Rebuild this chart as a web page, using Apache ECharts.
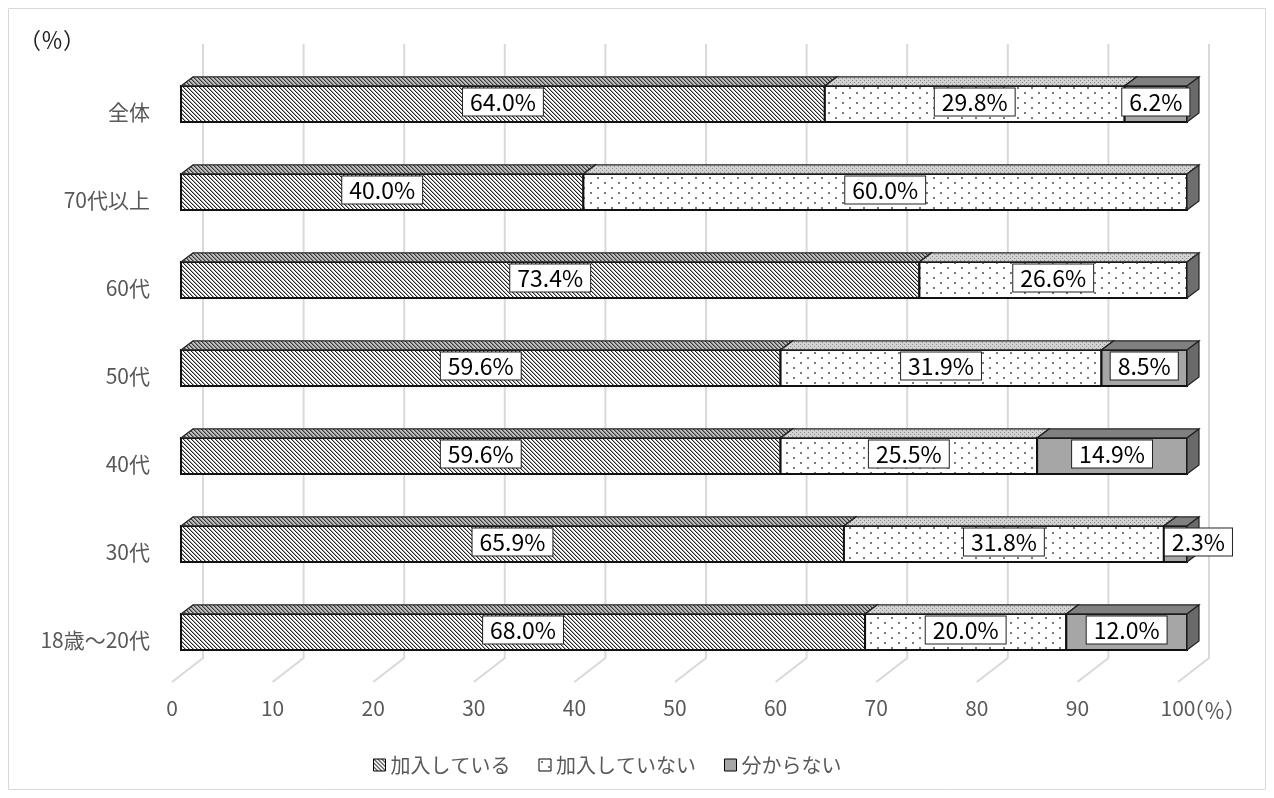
<!DOCTYPE html>
<html>
<head>
<meta charset="utf-8">
<title>加入状況</title>
<script src="https://cdn.jsdelivr.net/npm/echarts@6/dist/echarts.min.js"></script>
<style>
  html, body { margin: 0; padding: 0; background: #fff; }
  #chart { width: 1274px; height: 798px; }
</style>
</head>
<body>
<div id="chart"></div>
<script>
// Age groups (top to bottom) and the share of each answer, in %
const categories = ['全体', '70代以上', '60代', '50代', '40代', '30代', '18歳～20代'];
const joined     = [64.0, 40.0, 73.4, 59.6, 59.6, 65.9, 68.0];
const notJoined  = [29.8, 60.0, 26.6, 31.9, 25.5, 31.8, 20.0];
const unknown    = [6.2, 0, 0, 8.5, 14.9, 2.3, 12.0];
const seriesNames = ['加入している', '加入していない', '分からない'];
const xTicks = [0, 10, 20, 30, 40, 50, 60, 70, 80, 90, 100];

const FONT = '"Noto Sans CJK JP", "Noto Sans", sans-serif';

// ---- fill patterns -------------------------------------------------------
function tile(w, h, bg, paint) {
  const c = document.createElement('canvas');
  c.width = w; c.height = h;
  const g = c.getContext('2d');
  g.fillStyle = bg; g.fillRect(0, 0, w, h);
  paint(g);
  return c;
}
function hatch(bg, dark, mid) {
  return tile(4, 4, bg, g => {
    for (let y = 0; y < 4; y++) for (let x = 0; x < 4; x++) {
      const d = ((x - y) % 4 + 4) % 4;
      if (d === 0) { g.fillStyle = dark; g.fillRect(x, y, 1, 1); }
      else if (d === 1) { g.fillStyle = mid; g.fillRect(x, y, 1, 1); }
    }
  });
}
const pat = c => ({ image: c, repeat: 'repeat' });

const hatchFront = pat(hatch('#ffffff', '#262626', '#a8a8a8'));
const hatchTop   = pat(hatch('#c0c0c0', '#3a3a3a', '#808080'));
const dotsFront  = pat(tile(14, 10, '#ffffff', g => {
  g.fillStyle = '#7a7a7a';
  g.fillRect(2, 2, 2, 2); g.fillRect(9, 7, 2, 2);
}));
const dotsTop    = pat(tile(4, 4, '#d2d2d2', g => {
  g.fillStyle = '#8a8a8a';
  g.fillRect(0, 0, 1, 1); g.fillRect(2, 2, 1, 1);
}));

const faces = [
  { front: hatchFront, top: hatchTop, side: '#555555' },
  { front: dotsFront,  top: dotsTop,  side: '#6e6e6e' },
  { front: '#a6a6a6',  top: '#808080', side: '#6a6a6a' }
];

// ---- 3D geometry offsets (oblique projection) ----------------------------
const BAR_SHIFT = 9;              // front face of the bars sits 9px behind the floor edge
const DEPTH_X = 12, DEPTH_Y = -9; // bar depth
const WALL_X = 31;                // back wall offset from floor front

// stacked segments: [start, end, categoryIndex, value]
function segments(idx) {
  const out = [];
  categories.forEach((c, i) => {
    const parts = [joined[i], notJoined[i], unknown[i]];
    let start = 0;
    for (let k = 0; k < idx; k++) start += parts[k];
    const v = parts[idx];
    if (v > 0) out.push([start, start + v, i, v]);
  });
  return out;
}

function renderBar(faceIdx) {
  const f = faces[faceIdx];
  return function (params, api) {
    const a = api.coord([api.value(0), api.value(2)]);
    const b = api.coord([api.value(1), api.value(2)]);
    const h = api.size([0, 1])[1] * 0.41;
    const x0 = a[0] + BAR_SHIFT, x1 = b[0] + BAR_SHIFT;
    const yT = a[1] - h / 2, yB = a[1] + h / 2;
    const v = api.value(3);
    const narrow = v < 5;
    return {
      type: 'group',
      children: [
        { type: 'polygon', shape: { points: [[x0, yT], [x1, yT], [x1, yB], [x0, yB]] },
          style: { fill: f.front, stroke: '#111', lineWidth: 2 } },
        { type: 'polygon', shape: { points: [[x0, yT], [x0 + DEPTH_X, yT + DEPTH_Y], [x1 + DEPTH_X, yT + DEPTH_Y], [x1, yT]] },
          style: { fill: f.top, stroke: '#222', lineWidth: 1.2 } },
        { type: 'polygon', shape: { points: [[x1, yT], [x1 + DEPTH_X, yT + DEPTH_Y], [x1 + DEPTH_X, yB + DEPTH_Y], [x1, yB]] },
          style: { fill: f.side, stroke: '#222', lineWidth: 1.2 } },
        { type: 'text', z2: 10,
          style: {
            text: v.toFixed(1) + '%',
            x: narrow ? x0 + 1 : (x0 + x1) / 2,
            y: a[1] - 2,
            align: narrow ? 'left' : 'center',
            verticalAlign: 'middle',
            font: '23px ' + FONT,
            fill: '#000',
            backgroundColor: '#fff',
            borderColor: '#222',
            borderWidth: 1,
            padding: [2, 7]
          } }
      ]
    };
  };
}

// back wall and floor grid lines
function renderGrid(params, api) {
  const cs = params.coordSys;
  const x = api.coord([api.value(0), 0])[0];
  const top = cs.y - 16;
  const floorBack = cs.y + cs.height - 18;
  const floorFront = cs.y + cs.height + 6;
  return {
    type: 'polyline',
    shape: { points: [[x + WALL_X, top], [x + WALL_X, floorBack], [x, floorFront]] },
    style: { stroke: '#d9d9d9', lineWidth: 2, fill: null }
  };
}

const chart = echarts.init(document.getElementById('chart'), null, { renderer: 'canvas' });

chart.setOption({
  animation: false,
  backgroundColor: '#fff',
  textStyle: { fontFamily: FONT },
  grid: { left: 172, top: 60, width: 1006, height: 616, outerBoundsMode: 'none' },
  xAxis: {
    type: 'value', min: 0, max: 100, interval: 10,
    axisLine: { show: false }, axisTick: { show: false }, splitLine: { show: false },
    axisLabel: { color: '#595959', fontSize: 21, margin: 22, fontFamily: FONT }
  },
  yAxis: {
    type: 'category', data: categories, inverse: true,
    axisLine: { show: false }, axisTick: { show: false }, splitLine: { show: false },
    axisLabel: { color: '#595959', fontSize: 21, margin: 22, fontFamily: FONT,
                 verticalAlign: 'top', lineHeight: 16 }
  },
  legend: {
    data: seriesNames,
    left: 373, top: 755, padding: 0,
    icon: 'rect', itemWidth: 12, itemHeight: 12, itemGap: 28, itemStyle: { borderColor: '#000', borderWidth: 1 },
    textStyle: { color: '#595959', fontSize: 20, fontFamily: FONT },
    selectedMode: false
  },
  graphic: [
    { type: 'rect', shape: { x: 8.5, y: 8.5, width: 1257, height: 781 },
      style: { fill: null, stroke: '#d9d9d9', lineWidth: 1 }, silent: true },
    { type: 'text', x: 19, y: 40,
      style: { text: '（％）', font: '22px ' + FONT, fill: '#222', verticalAlign: 'middle' }, silent: true },
    { type: 'text', x: 1183, y: 710,
      style: { text: '（％）', font: '21px ' + FONT, fill: '#595959', verticalAlign: 'middle' }, silent: true }
  ],
  series: [
    { type: 'custom', name: '_grid', silent: true, z: 1,
      data: xTicks.map(t => [t, 0]), encode: { x: 0, y: 1 }, renderItem: renderGrid }
  ].concat(seriesNames.map((name, i) => ({
    type: 'custom', name, silent: true, z: 2,
    itemStyle: { color: faces[i].front, borderColor: '#000', borderWidth: 1 },
    data: segments(i),
    encode: { x: [0, 1], y: 2 },
    renderItem: renderBar(i)
  })))
});
</script>
</body>
</html>
